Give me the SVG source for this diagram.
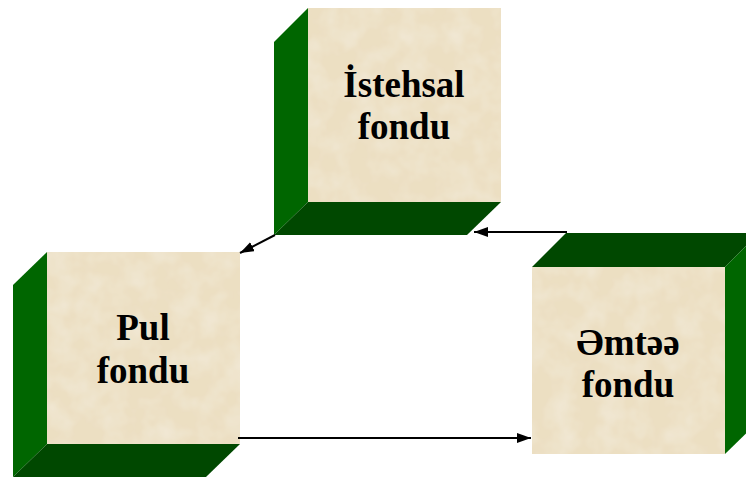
<svg xmlns="http://www.w3.org/2000/svg" width="746" height="477" viewBox="0 0 746 477">
<defs>
<filter id="parch" x="0" y="0" width="100%" height="100%">
<feTurbulence type="fractalNoise" baseFrequency="0.04" numOctaves="3" seed="4" result="n"/>
<feColorMatrix in="n" type="matrix" values="0 0 0 0 0.90  0 0 0 0 0.84  0 0 0 0 0.72  0 0 0 -1.2 0.75" result="c"/>
<feComposite in="c" in2="SourceGraphic" operator="in" result="t"/>
<feMerge><feMergeNode in="SourceGraphic"/><feMergeNode in="t"/></feMerge>
</filter>
<marker id="ah" viewBox="0 0 14 10" refX="14" refY="5" markerWidth="14" markerHeight="10" markerUnits="userSpaceOnUse" orient="auto">
<path d="M0,0 L14,5 L0,10 z" fill="#000"/>
</marker>
</defs>
<style>
.face{fill:#ECDFC2;filter:url(#parch)}
.side{fill:#006600}
.dark{fill:#004800}
.lbl{font-weight:bold;font-size:37px;fill:#000;text-anchor:middle}
.con{stroke:#000;stroke-width:2;fill:none;marker-end:url(#ah)}
</style>
<rect width="746" height="477" fill="#fff"/>
<g id="istehsal">
<polygon class="side" points="308,8 274,42 274,235 308,202"/>
<polygon class="dark" points="308,202 501,202 467,235 274,235"/>
<rect class="face" x="308" y="8" width="193" height="194"/>
<text class="lbl" font-family="Liberation Serif, Times New Roman, DejaVu Serif, serif" x="404" y="97">İstehsal</text>
<text class="lbl" font-family="Liberation Serif, Times New Roman, DejaVu Serif, serif" x="404" y="139">fondu</text>
</g>
<g id="pul">
<polygon class="side" points="47,252 13,285 13,477 47,444"/>
<polygon class="dark" points="47,444 240,444 206,477 13,477"/>
<rect class="face" x="47" y="252" width="193" height="192"/>
<text class="lbl" font-family="Liberation Serif, Times New Roman, DejaVu Serif, serif" x="143" y="340">Pul</text>
<text class="lbl" font-family="Liberation Serif, Times New Roman, DejaVu Serif, serif" x="143" y="383">fondu</text>
</g>
<g id="emtee">
<polygon class="dark" points="532,267 566,233 759,233 725,267"/>
<polygon class="side" points="725,267 759,233 759,421 725,454"/>
<rect class="face" x="532" y="267" width="193" height="187"/>
<text class="lbl" font-family="Liberation Serif, Times New Roman, DejaVu Serif, serif" x="628" y="355">Əmtəə</text>
<text class="lbl" font-family="Liberation Serif, Times New Roman, DejaVu Serif, serif" x="628" y="397">fondu</text>
</g>
<g id="connectors">
<line class="con" x1="567" y1="232" x2="474" y2="232"/>
<line class="con" x1="275" y1="235" x2="240" y2="253"/>
<line class="con" x1="238" y1="438" x2="531" y2="438"/>
</g>
</svg>
